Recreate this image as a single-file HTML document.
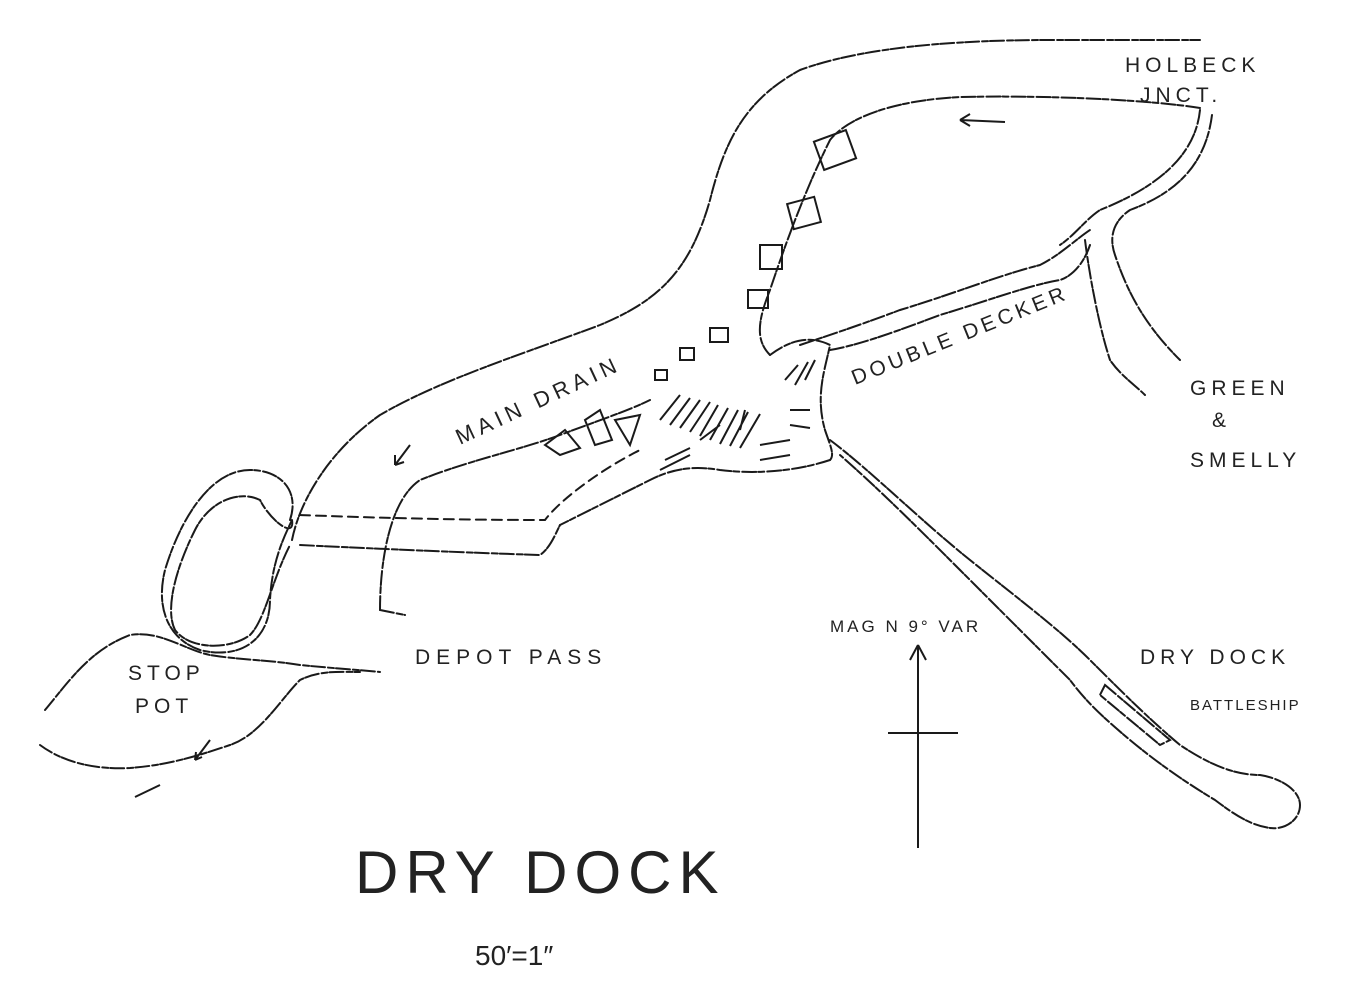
<!DOCTYPE html>
<html><head><meta charset="utf-8"><style>
html,body{margin:0;padding:0;background:#fff;}
svg{display:block;}
text{font-family:"Liberation Sans",sans-serif;fill:#222;}
</style></head><body>
<svg width="1361" height="1005" viewBox="0 0 1361 1005" xmlns="http://www.w3.org/2000/svg">
<rect width="1361" height="1005" fill="#fff"/>
<g fill="none" stroke="#1a1a1a" stroke-width="2" stroke-linecap="round" stroke-dasharray="14 3 6 2">
<path d="M292,540 C300,500 330,450 380,415 C440,380 520,355 600,325 C660,300 690,270 710,200 C725,140 745,100 800,70 C860,48 950,40 1050,40 L1200,40"/>
<path d="M1200,108 C1150,100 1050,95 960,97 C900,100 850,115 830,140 C810,180 790,230 770,290 C758,320 755,340 770,355"/>
<path d="M1200,110 C1195,160 1150,190 1100,210 C1085,220 1075,235 1060,245"/>
<path d="M1212,115 C1205,170 1170,195 1130,210 C1115,220 1108,235 1115,255 C1130,300 1150,330 1180,360"/>
<path d="M1085,240 C1090,280 1100,330 1110,360 C1120,375 1135,385 1145,395"/>
<path d="M800,345 C830,335 860,325 900,310 C950,295 1000,275 1040,265 C1060,255 1075,240 1090,230"/>
<path d="M830,350 C860,345 900,330 940,315 C990,300 1030,285 1060,280 C1075,275 1085,260 1090,245"/>
<path d="M770,355 C790,340 810,335 830,345 C825,370 815,395 825,430 C830,445 835,455 830,460"/>
<path d="M830,460 C800,470 760,475 720,470 C690,465 670,470 650,480 C620,495 590,510 560,525"/>
<path d="M300,545 C360,548 450,552 540,555 C550,548 555,535 560,525"/>
<path d="M380,610 C380,560 390,500 420,480 C470,460 520,450 560,435 C600,420 630,410 650,400"/>
<path d="M380,610 L405,615"/>
<path d="M300,515 C380,518 460,520 545,520 C560,500 600,470 640,450" stroke-dasharray="10 6"/>
<path d="M290,520 C300,490 280,470 250,470 C210,470 180,520 165,570 C155,610 170,640 200,650 C240,660 270,640 270,600 C272,560 285,535 292,520"/>
<path d="M292,520 C295,540 270,520 260,500 C240,490 210,500 195,530 C175,570 165,610 175,630 C190,650 230,650 250,635 C265,620 272,580 290,545"/>
<path d="M45,710 C70,680 90,650 130,635 C160,630 185,650 210,655 C240,660 270,660 300,665 C330,668 360,670 380,672"/>
<path d="M40,745 C60,760 90,770 130,768 C170,765 200,755 230,745 C260,735 280,700 300,680 C320,670 340,672 360,672"/>
<path d="M830,440 C870,470 920,520 970,560 C1020,600 1060,630 1090,660 C1120,690 1150,720 1180,745 C1210,765 1235,775 1260,775 C1280,778 1300,790 1300,805 C1300,820 1285,830 1270,828 C1250,825 1235,815 1215,800 C1190,785 1160,765 1130,740 C1100,715 1085,700 1070,680 C1040,650 1000,610 960,570 C920,530 880,490 840,455"/>
<path d="M1105,685 L1170,740 L1160,745 L1100,695 Z"/>
</g>
<g fill="none" stroke="#1a1a1a" stroke-width="2">
<rect x="818" y="135" width="34" height="30" transform="rotate(-20 835 150)"/>
<rect x="790" y="200" width="28" height="26" transform="rotate(-15 804 213)"/>
<rect x="760" y="245" width="22" height="24"/>
<rect x="748" y="290" width="20" height="18"/>
<rect x="710" y="328" width="18" height="14"/>
<rect x="680" y="348" width="14" height="12"/>
<rect x="655" y="370" width="12" height="10"/>
<path d="M545,445 L565,430 L580,448 L560,455 Z M585,420 L600,410 L612,440 L595,445 Z M615,420 L640,415 L630,445 Z"/>
</g>
<g stroke="#1a1a1a" stroke-width="2">
<path d="M660,420 L680,395 M670,425 L690,398 M680,428 L700,400 M690,432 L710,402 M700,436 L718,405 M710,440 L728,408 M720,444 L738,410 M730,446 L748,412 M740,448 L760,414 M660,470 L690,455 M665,460 L690,448 M700,440 L720,425 M740,430 L745,410 M760,445 L790,440 M760,460 L790,455 M790,410 L810,410 M790,425 L810,428 M805,380 L815,360 M795,385 L808,362 M785,380 L798,365"/>
</g>
<g stroke="#1a1a1a" stroke-width="2" fill="none">
<path d="M410,445 L395,465 M395,465 L395,455 M395,465 L404,462"/>
<path d="M960,120 L1005,122 M960,120 L970,114 M960,120 L970,126"/>
<path d="M210,740 L195,760 M195,760 L196,752 M195,760 L202,757"/>
<path d="M160,785 L135,797"/>
<path d="M918,848 L918,645 M918,645 L910,660 M918,645 L926,660 M888,733 L958,733"/>
</g>
<g font-size="21" letter-spacing="5">
<text x="1125" y="72">HOLBECK</text>
<text x="1140" y="102">JNCT.</text>
<text x="1190" y="395">GREEN</text>
<text x="1212" y="427">&amp;</text>
<text x="1190" y="467">SMELLY</text>
<text x="1140" y="664">DRY DOCK</text>
<text x="1190" y="710" font-size="15" letter-spacing="2">BATTLESHIP</text>
<text x="830" y="632" font-size="17" letter-spacing="3">MAG N  9° VAR</text>
<text x="415" y="664" letter-spacing="6">DEPOT PASS</text>
<text x="128" y="680">STOP</text>
<text x="135" y="713">POT</text>
<text transform="translate(460,445) rotate(-25)" font-size="22" letter-spacing="5">MAIN DRAIN</text>
<text transform="translate(855,385) rotate(-22)" letter-spacing="4">DOUBLE DECKER</text>
</g>
<text x="355" y="893" font-size="60" letter-spacing="7" fill="#333">DRY DOCK</text>
<text x="475" y="965" font-size="28">50′=1″</text>
</svg>
</body></html>
